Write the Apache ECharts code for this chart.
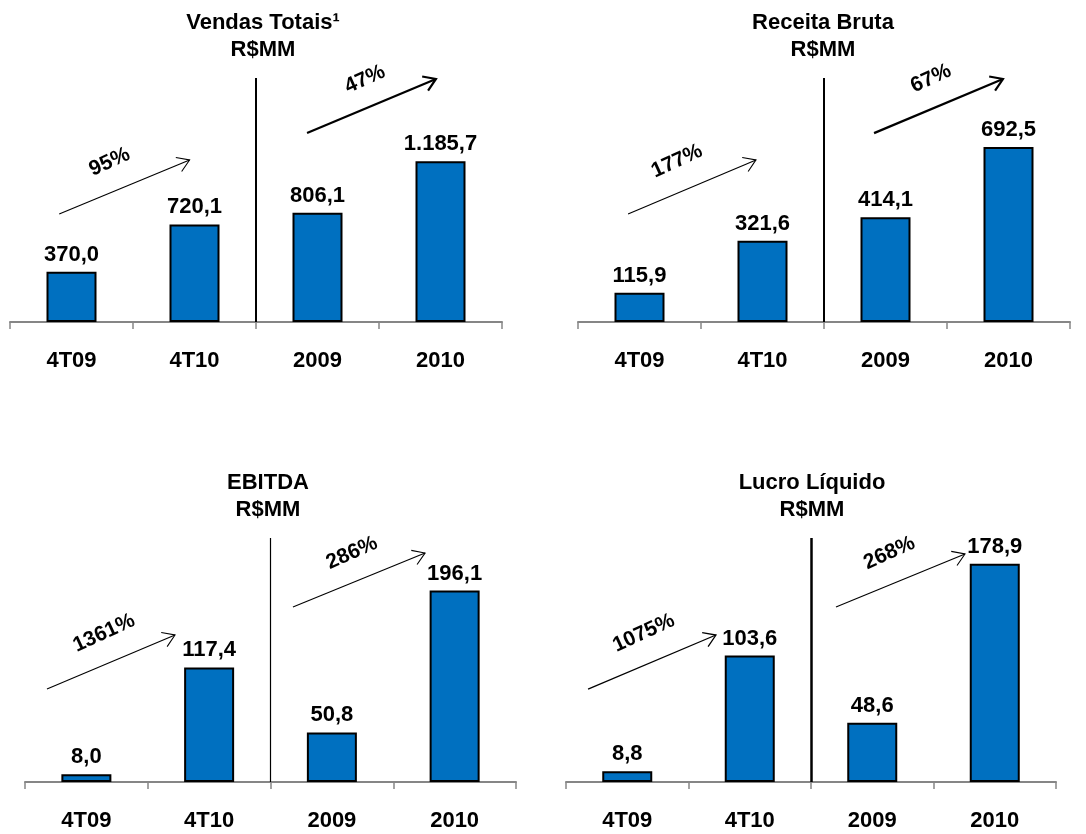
<!DOCTYPE html>
<html>
<head>
<meta charset="utf-8">
<script src="https://cdn.jsdelivr.net/npm/echarts@6/dist/echarts.min.js"></script>
<style>
  html, body { margin: 0; padding: 0; background: #ffffff; }
  #chart { width: 1086px; height: 834px; }
</style>
</head>
<body>
<div id="chart"></div>
<script>
// Categories and values (R$ MM)
const categories = ['4T09', '4T10', '2009', '2010'];
const vendasTotais = [370.0, 720.1, 806.1, 1185.7];
const receitaBruta = [115.9, 321.6, 414.1, 692.5];
const ebitda = [8.0, 117.4, 50.8, 196.1];
const lucroLiquido = [8.8, 103.6, 48.6, 178.9];

// Growth rates shown along the arrows (quarter, year)
const growthVendas = ['95%', '47%'];
const growthReceita = ['177%', '67%'];
const growthEbitda = ['1361%', '286%'];
const growthLucro = ['1075%', '268%'];

const FONT = '"Liberation Sans", Arial, sans-serif';

// Layout of each small chart; arrow ends are in data units
// (x: category index, y: axis value)
const panels = [
  {
    title: 'Vendas Totais¹', values: vendasTotais, growth: growthVendas,
    titleX: 263, titleY: 9, yMax: 1800, sepWidth: 2,
    grid: { left: 10, right: 584, top: 78, height: 244 },
    arrows: [
      { from: [-0.10, 797], to: [0.96, 1195], width: 1.1, label: [0.31, 1180] },
      { from: [1.915, 1394], to: [2.963, 1793], width: 2.2, label: [2.386, 1790] }
    ]
  },
  {
    title: 'Receita Bruta', values: receitaBruta, growth: growthReceita,
    titleX: 823, titleY: 9, yMax: 965, sepWidth: 2,
    grid: { left: 578, right: 16, top: 78, height: 244 },
    arrows: [
      { from: [-0.093, 427], to: [0.947, 641], width: 1.1, label: [0.305, 636] },
      { from: [1.907, 747], to: [2.955, 961], width: 2.2, label: [2.37, 963] }
    ]
  },
  {
    title: 'EBITDA', values: ebitda, growth: growthEbitda,
    titleX: 268, titleY: 469, yMax: 250, sepWidth: 1.2,
    grid: { left: 25, right: 570, top: 538, height: 244 },
    arrows: [
      { from: [-0.321, 95.3], to: [0.722, 150.6], width: 1.1, label: [0.144, 152.5] },
      { from: [1.683, 179.3], to: [2.759, 234.6], width: 1.1, label: [2.164, 234.5] }
    ]
  },
  {
    title: 'Lucro Líquido', values: lucroLiquido, growth: growthLucro,
    titleX: 812, titleY: 469, yMax: 200, sepWidth: 2.5,
    grid: { left: 566, right: 30, top: 538, height: 244 },
    arrows: [
      { from: [-0.32, 76.2], to: [0.724, 120.5], width: 1.3, label: [0.135, 122] },
      { from: [1.704, 143.4], to: [2.757, 186.9], width: 1.1, label: [2.14, 187.6] }
    ]
  }
];

// Brazilian number format: 1185.7 -> "1.185,7"
function fmtBR(v) {
  const parts = v.toFixed(1).split('.');
  return parts[0].replace(/\B(?=(\d{3})+(?!\d))/g, '.') + ',' + parts[1];
}

function arrowRenderer(panel) {
  return function (params, api) {
    const a = panel.arrows[params.dataIndex];
    const p1 = api.coord([api.value(0), api.value(1)]);
    const p2 = api.coord([api.value(2), api.value(3)]);
    const lp = api.coord([api.value(4), api.value(5)]);
    const ang = Math.atan2(p2[1] - p1[1], p2[0] - p1[0]);
    const L = 14, spread = 33 * Math.PI / 180;
    const h1 = [p2[0] - L * Math.cos(ang - spread), p2[1] - L * Math.sin(ang - spread)];
    const h2 = [p2[0] - L * Math.cos(ang + spread), p2[1] - L * Math.sin(ang + spread)];
    return {
      type: 'group',
      children: [
        { type: 'line', shape: { x1: p1[0], y1: p1[1], x2: p2[0], y2: p2[1] },
          style: { stroke: '#000', lineWidth: a.width } },
        { type: 'polyline', shape: { points: [h1, p2, h2] },
          style: { stroke: '#000', fill: null, lineWidth: a.width } },
        { type: 'text', x: lp[0], y: lp[1], rotation: -ang + 0.03,
          style: {
            text: panel.growth[params.dataIndex],
            fontSize: 21, fontWeight: 'bold', fontFamily: FONT, fill: '#000',
            align: 'center', verticalAlign: 'middle',
            textAlign: 'center', textVerticalAlign: 'middle'
          } }
      ]
    };
  };
}

const option = {
  animation: false,
  backgroundColor: '#ffffff',
  title: panels.map(p => ({
    text: p.title + '\nR$MM',
    left: p.titleX, top: p.titleY, textAlign: 'center', padding: 0,
    textStyle: { fontSize: 22, fontWeight: 'bold', fontFamily: FONT, color: '#000', lineHeight: 27 }
  })),
  grid: panels.map(p => Object.assign({ containLabel: false }, p.grid)),
  xAxis: [].concat(...panels.map((p, i) => [
    {
      type: 'category', gridIndex: i, data: categories,
      axisLine: { lineStyle: { color: '#868686', width: 2 } },
      axisTick: { show: true, length: 7, lineStyle: { color: '#868686', width: 1.5 } },
      axisLabel: { fontSize: 22, fontWeight: 'bold', fontFamily: FONT, color: '#000', margin: 28 },
      splitLine: { show: false }
    },
    { type: 'value', gridIndex: i, min: -0.5, max: 3.5, show: false }
  ])),
  yAxis: panels.map((p, i) => ({
    type: 'value', gridIndex: i, min: 0, max: p.yMax, show: false
  })),
  series: [].concat(...panels.map((p, i) => [
    {
      type: 'bar', xAxisIndex: 2 * i, yAxisIndex: i,
      data: p.values, barWidth: 50,
      itemStyle: { color: '#0070C0', borderColor: '#000', borderWidth: 2 },
      label: {
        show: true, position: 'top', distance: 6,
        formatter: d => fmtBR(d.value),
        fontSize: 22, fontWeight: 'bold', fontFamily: FONT, color: '#000'
      }
    },
    {
      type: 'custom', xAxisIndex: 2 * i + 1, yAxisIndex: i, clip: false,
      renderItem: arrowRenderer(p),
      data: p.arrows.map(a => [a.from[0], a.from[1], a.to[0], a.to[1], a.label[0], a.label[1]]),
      markLine: {
        silent: true, symbol: ['none', 'none'], label: { show: false },
        lineStyle: { color: '#000', type: 'solid', width: p.sepWidth },
        data: [{ xAxis: 1.5 }]
      }
    }
  ]))
};

const chart = echarts.init(document.getElementById('chart'), null, { renderer: 'canvas' });
chart.setOption(option);
</script>
</body>
</html>
